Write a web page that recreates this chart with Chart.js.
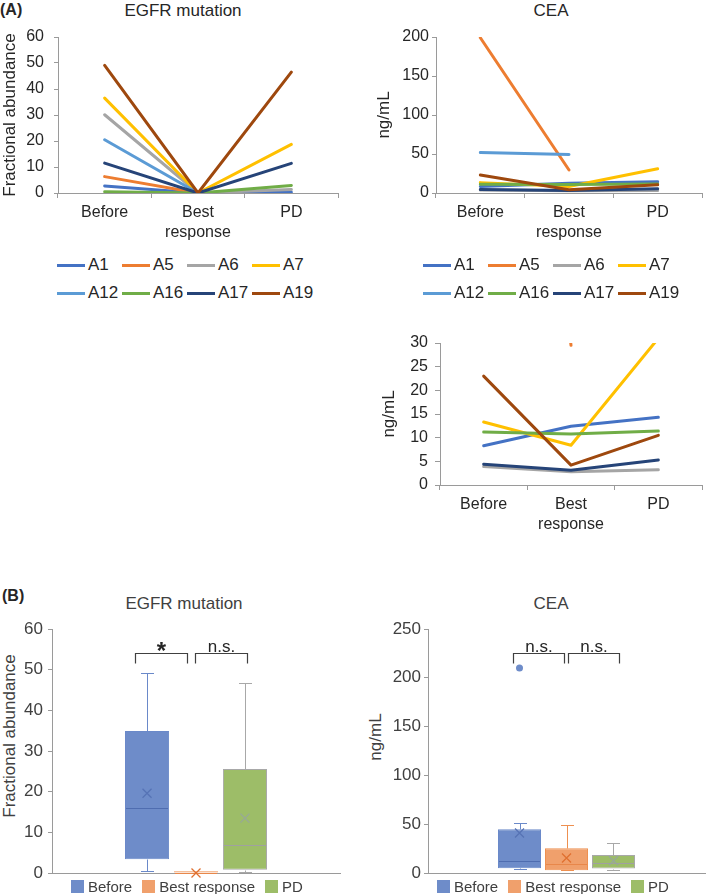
<!DOCTYPE html>
<html>
<head>
<meta charset="utf-8">
<script src="https://cdn.jsdelivr.net/npm/chart.js@4.4.1/dist/chart.umd.min.js"></script>
<style>
  body { margin: 0; width: 709px; height: 894px; position: relative; overflow: hidden; background: #fff;
         font-family: "Liberation Sans", Arial, sans-serif; color: #262626; }
  canvas { position: absolute; }
  .t { position: absolute; white-space: nowrap; line-height: 1; }
  .c { transform: translate(-50%, -50%); }
  .rot { transform: translate(-50%, -50%) rotate(-90deg); }
  .lg { position: absolute; display: grid; grid-template-columns: repeat(4, 65px); grid-auto-rows: 28px; font-size: 17px; }
  .lg div { display: flex; align-items: center; }
  .lg i { display: inline-block; width: 28px; height: 3px; margin-right: 3px; }
  .bl { position: absolute; display: flex; align-items: center; font-size: 15px; color: #404040; }
  .bl i { display: inline-block; width: 13px; height: 13px; margin-right: 4px; }
  .bl span { margin-right: 10px; }
</style>
</head>
<body>

<div class="t" style="left:0;top:2px;font-size:16px;font-weight:bold">(A)</div>
<div class="t c" style="left:183px;top:10px;font-size:17px">EGFR mutation</div>
<div class="t c" style="left:551px;top:10px;font-size:17px">CEA</div>
<div class="t" style="left:2px;top:588px;font-size:16px;font-weight:bold">(B)</div>
<div class="t c" style="left:184px;top:603px;font-size:17px;color:#404040">EGFR mutation</div>
<div class="t c" style="left:551px;top:603px;font-size:17px;color:#404040">CEA</div>
<div class="t rot" style="left:9px;top:736px;font-size:17px;color:#404040">Fractional abundance</div>
<div class="t rot" style="left:375px;top:737px;font-size:17px;color:#404040">ng/mL</div>

<canvas id="egfrLine" width="345" height="250" style="left:0;top:0"></canvas>
<canvas id="ceaLine" width="359" height="250" style="left:350px;top:0"></canvas>
<canvas id="ceaZoom" width="339" height="250" style="left:370px;top:300px"></canvas>
<canvas id="egfrBox" width="360" height="294" style="left:0;top:600px"></canvas>
<canvas id="ceaBox" width="359" height="294" style="left:350px;top:600px"></canvas>

<div class="lg" id="lgEgfr" style="left:57px;top:251px"></div>
<div class="lg" id="lgCea" style="left:423px;top:251px"></div>
<div class="bl" id="blEgfr" style="left:71px;top:878px"></div>
<div class="bl" id="blCea" style="left:437px;top:878px"></div>

<script>
// time points and patients
const stages = ['Before', ['Best', 'response'], 'PD'];
const patients = ['A1', 'A5', 'A6', 'A7', 'A12', 'A16', 'A17', 'A19'];
const patientColors = ['#4472C4', '#ED7D31', '#A5A5A5', '#FFC000', '#5B9BD5', '#70AD47', '#264478', '#9E480E'];

// EGFR mutation fractional abundance (Before, Best response, PD)
const egfrA1 = [2.7, 0, 0.3];
const egfrA5 = [6.3, 0, null];
const egfrA6 = [30.1, 0, 1.3];
const egfrA7 = [36.5, 0, 18.7];
const egfrA12 = [20.5, 0, null];
const egfrA16 = [0.5, 0, 2.9];
const egfrA17 = [11.5, 0, 11.4];
const egfrA19 = [49.1, 0, 46.5];

// CEA ng/mL (Before, Best response, PD)
const ceaA1 = [8.3, 12.4, 14.3];
const ceaA5 = [199, 29.5, null];
const ceaA6 = [3.9, 2.8, 3.2];
const ceaA7 = [13.3, 8.4, 31];
const ceaA12 = [52, 49.5, null];
const ceaA16 = [11.2, 10.8, 11.4];
const ceaA17 = [4.4, 3.1, 5.3];
const ceaA19 = [23, 4.2, 10.5];

const egfrSeries = [egfrA1, egfrA5, egfrA6, egfrA7, egfrA12, egfrA16, egfrA17, egfrA19];
const ceaSeries = [ceaA1, ceaA5, ceaA6, ceaA7, ceaA12, ceaA16, ceaA17, ceaA19];

// box plot summaries (Before, Best response, PD)
const boxGroups = ['Before', 'Best response', 'PD'];
const egfrBoxMin = [0.4, 0, 0.25];
const egfrBoxQ1 = [3.4, 0, 0.8];
const egfrBoxMed = [16, 0, 7];
const egfrBoxQ3 = [34.9, 0.45, 25.6];
const egfrBoxMax = [49.2, 0, 46.6];
const egfrBoxMean = [19.6, 0, 13.5];
const egfrOutliers = [[], [], []];
const egfrSig = ['*', 'n.s.'];

const ceaBoxMin = [3.8, 2.8, 3.2];
const ceaBoxQ1 = [4.8, 2.9, 4.5];
const ceaBoxMed = [12.3, 9.2, 10.6];
const ceaBoxQ3 = [44.8, 25.3, 18.4];
const ceaBoxMax = [51.5, 49.2, 31];
const ceaBoxMean = [41, 15.4, 12.6];
const ceaOutliers = [[210], [], []];
const ceaSig = ['n.s.', 'n.s.'];

const boxFill = ['#6E8CC9', '#F0A06C', '#9DBD68'];
const boxEdge = ['#6A89C9', '#EE9050', '#A8A8A8'];
const boxMedian = ['#4F6DB0', '#E8874A', '#A0A0A0'];
const boxMeanCol = ['#5673B5', '#E07030', '#98A898'];

const axisCol = '#9a9a9a';

function lineChart(id, series, yMax, yStep, yTitle, cfg) {
  return new Chart(document.getElementById(id), {
    type: 'line',
    data: {
      labels: stages,
      datasets: patients.map((p, i) => ({
        label: p,
        data: series[i],
        borderColor: patientColors[i],
        backgroundColor: patientColors[i],
        borderWidth: 3,
        pointRadius: 0,
        tension: 0,
        borderCapStyle: 'round',
        borderJoinStyle: 'round',
        order: patients.length - i
      }))
    },
    options: {
      responsive: false,
      animation: false,
      layout: { padding: cfg.pad },
      plugins: { legend: { display: false }, tooltip: { enabled: false } },
      scales: {
        x: {
          offset: true,
          grid: { offset: true, drawOnChartArea: false, tickLength: 5, color: axisCol },
          border: { color: axisCol },
          ticks: { color: '#262626', font: { size: 16, lineHeight: 1.25 }, padding: 5, maxRotation: 0, autoSkip: false },
          afterFit: s => { s.height = cfg.xh; }
        },
        y: {
          min: 0, max: yMax,
          grid: { drawOnChartArea: false, tickLength: cfg.tl, color: axisCol },
          border: { color: axisCol },
          ticks: { stepSize: yStep, padding: cfg.tp, color: '#262626', font: { size: 16 } },
          title: { display: true, text: yTitle, color: '#262626', font: { size: 17 }, padding: 0 },
          afterFit: s => { s.width = cfg.yw; }
        }
      }
    }
  });
}

function boxPlugin(st, sig, sigCfg) {
  return {
    id: 'boxExtras',
    afterDatasetsDraw(chart) {
      const ctx = chart.ctx;
      const y = chart.scales.y;
      const px = v => Math.round(y.getPixelForValue(v)) + 0.5;
      const bars = chart.data.datasets.map((d, i) => chart.getDatasetMeta(i).data[0].getProps(['x', 'width'], true));
      ctx.save();
      bars.forEach((b, i) => {
        const x = Math.round(b.x) + 0.5, hw = b.width / 2, cw = 6.5;
        ctx.lineWidth = 1;
        ctx.strokeStyle = boxEdge[i];
        ctx.beginPath();
        if (st.max[i] > st.q3[i]) {
          ctx.moveTo(x, px(st.q3[i])); ctx.lineTo(x, px(st.max[i]));
          ctx.moveTo(x - cw, px(st.max[i])); ctx.lineTo(x + cw, px(st.max[i]));
        }
        if (st.min[i] < st.q1[i]) {
          ctx.moveTo(x, px(st.q1[i])); ctx.lineTo(x, px(st.min[i]));
          ctx.moveTo(x - cw, px(st.min[i])); ctx.lineTo(x + cw, px(st.min[i]));
        }
        ctx.stroke();
        // median
        ctx.strokeStyle = boxMedian[i];
        ctx.beginPath();
        ctx.moveTo(b.x - hw + 1, px(st.med[i])); ctx.lineTo(b.x + hw - 1, px(st.med[i]));
        ctx.stroke();
        // mean cross
        const my = y.getPixelForValue(st.mean[i]), s = 4.5;
        ctx.strokeStyle = boxMeanCol[i];
        ctx.lineWidth = 1.3;
        ctx.beginPath();
        ctx.moveTo(b.x - s, my - s); ctx.lineTo(b.x + s, my + s);
        ctx.moveTo(b.x - s, my + s); ctx.lineTo(b.x + s, my - s);
        ctx.stroke();
        // outliers
        ctx.fillStyle = boxFill[i];
        st.out[i].forEach(v => {
          ctx.beginPath();
          ctx.arc(b.x, y.getPixelForValue(v), 3.5, 0, Math.PI * 2);
          ctx.fill();
        });
      });
      // significance brackets
      ctx.strokeStyle = '#404040';
      ctx.fillStyle = '#262626';
      ctx.lineWidth = 1.2;
      ctx.textAlign = 'center';
      sig.forEach((label, k) => {
        const xa = Math.round(bars[k].x + sigCfg.off[k][0]) + 0.5;
        const xb = Math.round(bars[k + 1].x + sigCfg.off[k][1]) + 0.5;
        const yt = px(sigCfg.top), ye = px(sigCfg.end);
        ctx.beginPath();
        ctx.moveTo(xa, ye); ctx.lineTo(xa, yt); ctx.lineTo(xb, yt); ctx.lineTo(xb, ye);
        ctx.stroke();
        if (label === '*') {
          ctx.font = 'bold 24px "Liberation Sans", Arial';
          ctx.fillText(label, (xa + xb) / 2, yt + 5);
        } else {
          ctx.font = '17px "Liberation Sans", Arial';
          ctx.fillText(label, (xa + xb) / 2, yt - 2);
        }
      });
      ctx.restore();
    }
  };
}

function boxChart(id, st, yMax, yStep, sig, cfg) {
  return new Chart(document.getElementById(id), {
    type: 'bar',
    data: {
      labels: [''],
      datasets: boxGroups.map((g, i) => ({
        label: g,
        data: [[st.q1[i], st.q3[i]]],
        backgroundColor: boxFill[i],
        borderColor: boxEdge[i],
        borderWidth: 1,
        borderSkipped: false,
        categoryPercentage: cfg.cat,
        barPercentage: cfg.bar
      }))
    },
    options: {
      responsive: false,
      animation: false,
      layout: { padding: cfg.pad },
      plugins: { legend: { display: false }, tooltip: { enabled: false } },
      scales: {
        x: {
          grid: { drawOnChartArea: false, drawTicks: false, color: axisCol },
          border: { color: axisCol },
          ticks: { display: false },
          afterFit: s => { s.height = cfg.xh; }
        },
        y: {
          min: 0, max: yMax,
          grid: { drawOnChartArea: false, tickLength: 4, color: axisCol },
          border: { color: axisCol },
          ticks: { stepSize: yStep, padding: cfg.tp, color: '#404040', font: { size: 17 } },
          afterFit: s => { s.width = cfg.yw; }
        }
      }
    },
    plugins: [boxPlugin(st, sig, cfg.sig)]
  });
}

function lineLegend(id) {
  const el = document.getElementById(id);
  patients.forEach((p, i) => {
    const d = document.createElement('div');
    d.innerHTML = '<i style="background:' + patientColors[i] + '"></i>' + p;
    el.appendChild(d);
  });
}

function boxLegend(id) {
  const el = document.getElementById(id);
  boxGroups.forEach((g, i) => {
    el.insertAdjacentHTML('beforeend', '<i style="background:' + boxFill[i] + '"></i><span>' + g + '</span>');
  });
}

lineChart('egfrLine', egfrSeries, 60, 10, 'Fractional abundance',
  { pad: { left: 0, top: 37, right: 7, bottom: 0 }, yw: 58, xh: 57, tl: 4, tp: 10 });
lineChart('ceaLine', ceaSeries, 200, 50, 'ng/mL',
  { pad: { left: 24, top: 37, right: 7, bottom: 0 }, yw: 62, xh: 57, tl: 4, tp: 3 });
lineChart('ceaZoom', ceaSeries, 30, 5, 'ng/mL',
  { pad: { left: 9, top: 43, right: 7, bottom: 0 }, yw: 61, xh: 65, tl: 5, tp: 7 });

boxChart('egfrBox',
  { min: egfrBoxMin, q1: egfrBoxQ1, med: egfrBoxMed, q3: egfrBoxQ3, max: egfrBoxMax, mean: egfrBoxMean, out: egfrOutliers },
  60, 10, egfrSig,
  { pad: { left: 0, top: 29, right: 20, bottom: 0 }, yw: 52, xh: 21, tp: 5, cat: 0.51, bar: 0.9,
    sig: { top: 54.1, end: 51.6, off: [[-12, -9], [-1, 2]] } });
boxChart('ceaBox',
  { min: ceaBoxMin, q1: ceaBoxQ1, med: ceaBoxMed, q3: ceaBoxQ3, max: ceaBoxMax, mean: ceaBoxMean, out: ceaOutliers },
  250, 50, ceaSig,
  { pad: { left: 0, top: 29, right: 4, bottom: 0 }, yw: 78, xh: 21, tp: 3, cat: 0.509, bar: 0.915,
    sig: { top: 225.4, end: 215.2, off: [[-7, -3], [1, 6]] } });

lineLegend('lgEgfr');
lineLegend('lgCea');
boxLegend('blEgfr');
boxLegend('blCea');
</script>
</body>
</html>
